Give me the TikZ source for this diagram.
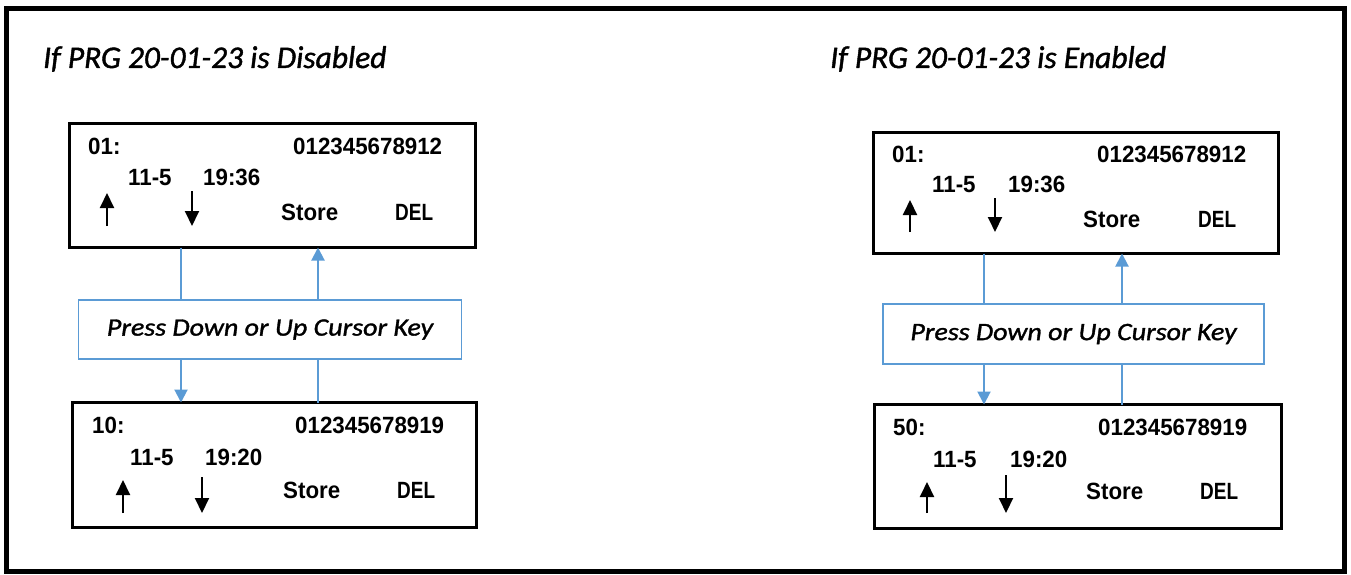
\documentclass[tikz,border=0pt]{standalone}
\usepackage{fontspec}
\setmainfont{Carlito}
\newfontfamily\titlefont[FakeBold=1.3]{Carlito}
\newfontfamily\lcdfont[FakeStretch=0.95]{Liberation Sans}
\newfontfamily\pressfont[FakeStretch=1.12,FakeBold=1.3]{Carlito}
\usetikzlibrary{arrows.meta}
\definecolor{cblue}{HTML}{5B9BD5}
\begin{document}
\begin{tikzpicture}[x=1pt,y=-1pt,
  lcd/.style={draw=black,line width=3pt,inner sep=0pt,outer sep=0pt},
  pressbox/.style={draw=cblue,line width=1.5pt,inner sep=0pt,outer sep=0pt,font=\pressfont\itshape\fontsize{25}{30}\selectfont},
  lcdtext/.style={anchor=base west,inner sep=0pt,font=\lcdfont\bfseries\fontsize{23.5}{28}\selectfont},
  titletext/.style={anchor=base west,inner sep=0pt,font=\titlefont\itshape\fontsize{31.5}{38}\selectfont},
  conn/.style={draw=cblue,line width=2pt},
  conna/.style={conn,-{Triangle[width=13pt,length=13pt]}},
  karrow/.style={line width=2pt,-{Triangle[width=14pt,length=15pt]}}]
\useasboundingbox (0,0) rectangle (1351,575);
\draw[line width=4.5pt] (6.5,8.5) rectangle (1344.5,571.5);

% titles
\node[titletext] (t1) at (43,68) {If PRG 20-01-23 is Disabled};
\node[titletext] (t2) at (830,68) {If PRG 20-01-23 is Enabled};

% left column
\node[lcd,minimum width=406pt,minimum height=124pt] (lt) at (272.5,185.5) {};
\node[pressbox,minimum width=383pt,minimum height=59pt] (lp) at (270,329.5) {Press Down or Up Cursor Key};
\node[lcd,minimum width=404pt,minimum height=125pt] (lb) at (274.5,465) {};

% right column
\node[lcd,minimum width=405pt,minimum height=121pt] (rt) at (1076,193) {};
\node[pressbox,minimum width=381pt,minimum height=60pt] (rp) at (1073.5,334) {Press Down or Up Cursor Key};
\node[lcd,minimum width=407pt,minimum height=124pt] (rb) at (1078,466.5) {};

% connector columns
\coordinate (ld) at (181,0);
\coordinate (lu) at (318,0);
\coordinate (rd) at (984,0);
\coordinate (ru) at (1122,0);
\draw[conn] (lt.south -| ld) -- (lp.north -| ld);
\draw[conna] (lp.south -| ld) -- (lb.north -| ld);
\draw[conn] (lb.north -| lu) -- (lp.south -| lu);
\draw[conna] (lp.north -| lu) -- (lt.south -| lu);
\draw[conn] (rt.south -| rd) -- (rp.north -| rd);
\draw[conna] (rp.south -| rd) -- (rb.north -| rd);
\draw[conn] (rb.north -| ru) -- (rp.south -| ru);
\draw[conna] (rp.north -| ru) -- (rt.south -| ru);

% left top display
\node[lcdtext] (lt1) at (88,154) {01:};
\node[lcdtext] (lt2) at (293,154) {012345678912};
\node[lcdtext] (lt3) at (128,185) {11-5};
\node[lcdtext] (lt4) at (203,185) {19:36};
\node[lcdtext] (lt5) at (281,220) {Store};
\node[lcdtext] (lt6) at (395,220) {\scalebox{0.85}[1]{DEL}};
\draw[karrow] (107,226) -- (107,193);
\draw[karrow] (192,191) -- (192,226);

% left bottom display
\node[lcdtext] (lb1) at (92,433) {10:};
\node[lcdtext] (lb2) at (295,433) {012345678919};
\node[lcdtext] (lb3) at (130,465) {11-5};
\node[lcdtext] (lb4) at (205,465) {19:20};
\node[lcdtext] (lb5) at (283,498) {Store};
\node[lcdtext] (lb6) at (397,498) {\scalebox{0.85}[1]{DEL}};
\draw[karrow] (123,513) -- (123,480);
\draw[karrow] (202,477) -- (202,513);

% right top display
\node[lcdtext] (rt1) at (892,162) {01:};
\node[lcdtext] (rt2) at (1097,162) {012345678912};
\node[lcdtext] (rt3) at (932,192) {11-5};
\node[lcdtext] (rt4) at (1008,192) {19:36};
\node[lcdtext] (rt5) at (1083,227) {Store};
\node[lcdtext] (rt6) at (1198,227) {\scalebox{0.85}[1]{DEL}};
\draw[karrow] (910,232) -- (910,200);
\draw[karrow] (995,198) -- (995,232);

% right bottom display
\node[lcdtext] (rb1) at (893,435) {50:};
\node[lcdtext] (rb2) at (1098,435) {012345678919};
\node[lcdtext] (rb3) at (933,467) {11-5};
\node[lcdtext] (rb4) at (1010,467) {19:20};
\node[lcdtext] (rb5) at (1086,499) {Store};
\node[lcdtext] (rb6) at (1200,499) {\scalebox{0.85}[1]{DEL}};
\draw[karrow] (927,513) -- (927,482);
\draw[karrow] (1006,475) -- (1006,513);
\end{tikzpicture}
\end{document}
